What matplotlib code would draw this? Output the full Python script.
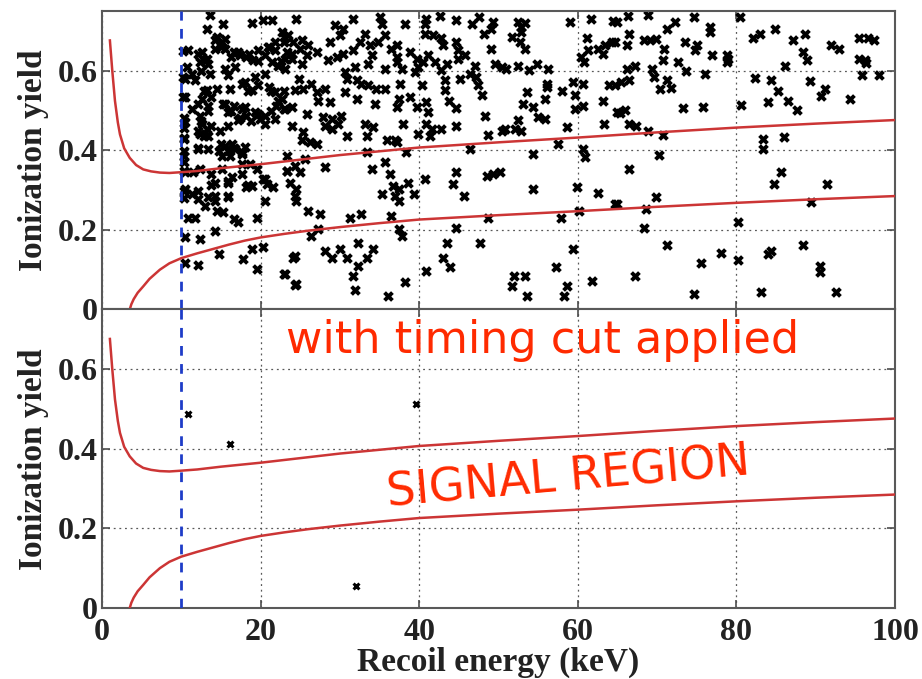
import matplotlib
matplotlib.use("Agg")
import matplotlib.pyplot as plt

# Nuclear-recoil acceptance band (upper / lower edges)
upper_energy = [1.0, 1.3, 1.64, 2.0, 2.27, 2.8, 3.5, 4.3, 5.2, 6.2, 7.3, 8.5,
                10, 12, 15, 20, 30, 40, 50, 60, 70, 80, 90, 100]
upper_yield = [0.676, 0.60, 0.524, 0.47, 0.44, 0.405, 0.381, 0.363, 0.352,
               0.347, 0.344, 0.343, 0.345, 0.348, 0.355, 0.365, 0.388, 0.407,
               0.420, 0.432, 0.445, 0.457, 0.467, 0.476]
lower_energy = [3.5, 3.7, 4.0, 4.5, 5.2, 6.0, 7.3, 8.5, 10, 12, 14, 16, 18,
                20, 23, 26, 30, 35, 40, 50, 60, 70, 80, 90, 100]
lower_yield = [0.0, 0.013, 0.026, 0.042, 0.058, 0.077, 0.100, 0.116, 0.129,
               0.141, 0.152, 0.163, 0.173, 0.181, 0.190, 0.198, 0.207, 0.217,
               0.226, 0.237, 0.247, 0.258, 0.268, 0.277, 0.285]

threshold_kev = 10

# Events before the timing cut
all_energy = [
    80.5, 82.1, 83.0, 84.9, 87.2, 88.7, 88.4, 88.9, 91.9, 92.9, 95.4, 96.6,
    97.3, 95.4, 96.2, 96.4, 95.8, 98.0, 79.0, 86.1, 82.3, 84.4, 89.3, 85.3,
    91.2, 90.7, 84.0, 86.5, 87.7, 94.3, 80.6, 83.4, 83.4, 86.0, 85.6, 84.7,
    91.4, 89.4, 80.2, 88.4, 84.0, 84.4, 80.2, 90.5, 90.5, 83.1, 92.6,
    66.3, 68.8, 74.6, 72.2, 71.2, 64.9, 66.5, 64.7, 66.2, 68.3, 69.1, 69.9,
    70.9, 73.5, 75.0, 74.8, 76.7, 76.7, 76.9, 70.8, 72.7, 73.6, 67.2, 66.2,
    69.3, 69.6, 76.1, 78.8, 78.8, 66.4, 65.5, 64.7, 71.3, 71.8, 70.4, 73.3,
    75.8, 66.0, 65.3, 66.4, 67.3, 68.9, 70.8, 70.2, 66.5, 69.9, 64.9, 68.6,
    68.3, 71.2, 78.1, 75.5, 67.2, 74.7,
    52.5, 53.4, 52.8, 52.9, 51.7, 52.7, 53.4, 59.0, 61.7, 64.5, 61.1, 61.3,
    60.4, 60.8, 62.6, 63.4, 64.3, 63.2, 52.5, 51.0, 53.8, 54.8, 56.3, 56.1,
    56.1, 58.0, 59.4, 60.7, 59.7, 60.7, 59.6, 53.6, 53.1, 54.4, 55.9, 55.0,
    55.9, 52.5, 52.1, 52.9, 50.8, 58.6, 63.3, 63.9, 63.2, 64.9, 57.5, 54.4,
    60.7, 60.9, 54.4, 59.9, 62.6, 64.7, 57.9, 60.2, 59.4, 57.3, 51.9, 53.3,
    51.7, 53.6, 58.6, 58.3, 61.8,
    38.2, 40.9, 40.7, 42.6, 44.7, 46.6, 47.5, 49.3, 49.1, 48.2, 37.2, 37.2,
    40.7, 41.8, 42.8, 43.0, 38.8, 39.7, 39.9, 40.5, 41.1, 39.5, 42.0, 42.8,
    43.5, 44.7, 44.9, 45.8, 44.9, 47.0, 46.4, 47.2, 47.4, 47.9, 45.1, 49.1,
    49.6, 50.4, 37.8, 37.6, 40.3, 43.3, 43.3, 43.7, 37.4, 38.8, 37.2, 39.7,
    40.9, 41.1, 44.7, 48.3, 38.0, 39.9, 40.9, 41.6, 42.8, 41.4, 44.7, 48.7,
    50.4, 37.2, 38.4, 46.4, 40.7, 44.7, 44.3, 45.6, 48.5, 49.3, 50.2, 37.4,
    38.6, 39.3, 37.4, 48.7, 37.4, 37.8, 44.7, 43.5, 47.7, 43.0, 43.9, 40.9,
    38.2,
    24.5, 31.7, 35.1, 35.3, 29.4, 30.4, 30.0, 23.5, 24.1, 25.2, 25.0, 26.0,
    27.1, 28.8, 28.5, 29.6, 30.4, 31.7, 33.2, 32.5, 33.8, 34.0, 33.6, 34.8,
    35.7, 36.5, 37.2, 35.7, 23.9, 25.2, 25.8, 23.3, 23.1, 30.6, 30.9, 31.9,
    32.7, 33.6, 34.6, 35.7, 32.1, 24.8, 24.3, 25.4, 26.4, 27.1, 28.1, 27.3,
    28.8, 30.6, 32.1, 34.4, 23.1, 25.8, 27.9, 29.0, 30.2, 23.9, 25.4, 28.1,
    29.0, 29.8, 30.9, 33.2, 33.4, 34.2, 25.2, 26.2, 27.1, 35.9, 36.9, 23.3,
    25.6, 24.3, 23.3, 25.0, 28.1, 33.4, 35.7, 34.0, 23.7, 24.5, 24.3, 24.5,
    36.3, 36.7, 35.3, 36.9, 26.0, 27.5, 31.3, 32.7, 36.5, 27.3, 26.4, 32.3,
    24.3, 28.1, 29.0, 30.0, 30.9, 34.2, 33.4, 32.3, 31.7, 23.1, 24.5, 31.9,
    36.1, 24.1, 24.3,
    13.6, 13.2, 15.3, 18.9, 20.3, 21.4, 14.5, 15.1, 15.5, 16.6, 14.3, 12.6,
    13.2, 12.4, 10.9, 10.7, 11.3, 17.4, 18.2, 19.1, 19.7, 21.0, 21.8, 22.7,
    23.1, 20.6, 21.4, 22.2, 23.1, 15.5, 15.9, 16.8, 10.5, 11.7, 13.2, 14.5,
    16.1, 12.6, 13.4, 10.5, 11.3, 18.0, 18.9, 19.7, 21.0, 21.8, 22.7, 22.0,
    22.9, 15.3, 15.9, 16.6, 17.6, 18.2, 19.3, 19.9, 17.2, 12.4, 12.6, 13.2,
    12.4, 13.4, 10.5, 10.3, 20.6, 21.8, 15.9, 14.9, 12.1, 13.4, 14.7, 15.5,
    16.4, 16.8, 17.6, 15.1, 16.1, 18.0, 10.3, 10.3, 17.6, 18.7, 10.5, 11.5,
    12.4, 13.8, 15.1, 17.6, 19.5, 23.3, 14.3, 15.9, 16.4, 18.2, 18.9, 20.3,
    20.8, 21.6, 10.5, 11.3, 12.1, 13.4, 14.3, 15.9, 13.0, 20.6, 10.9, 11.7,
    14.5, 15.3, 16.6, 17.2, 19.5, 10.5, 12.4, 14.3, 14.7, 17.8, 18.9, 20.3,
    10.5, 12.1, 19.5, 22.9,
    10.2, 10.2, 10.2, 10.4, 10.4, 10.4, 10.4, 10.4, 10.4, 10.4, 12.1, 12.7,
    13.4, 12.5, 13.6, 14.2, 15.0, 15.5, 16.3, 17.1, 18.6, 19.7, 20.9, 21.8,
    23.0, 22.6, 23.9, 12.9, 13.8, 12.1, 13.4, 12.5, 13.8, 12.1, 12.9, 15.5,
    16.3, 17.4, 18.0, 18.8, 19.7, 20.5, 21.3, 22.2, 23.0, 23.9, 17.6, 18.4,
    19.3, 21.3, 20.5, 15.0, 15.9, 16.7, 17.6, 12.1, 13.8, 15.9, 18.4, 20.5,
    12.1, 15.9, 14.2,
]
all_yield = [
    0.735, 0.681, 0.691, 0.704, 0.677, 0.691, 0.647, 0.626, 0.664, 0.654,
    0.682, 0.682, 0.677, 0.630, 0.626, 0.620, 0.590, 0.588, 0.630, 0.613,
    0.582, 0.577, 0.573, 0.548, 0.553, 0.536, 0.521, 0.523, 0.502, 0.529,
    0.514, 0.429, 0.403, 0.434, 0.345, 0.315, 0.315, 0.269, 0.219, 0.161,
    0.139, 0.147, 0.124, 0.109, 0.093, 0.044, 0.044,
    0.738, 0.741, 0.735, 0.723, 0.704, 0.723, 0.693, 0.672, 0.664, 0.677,
    0.677, 0.679, 0.655, 0.672, 0.664, 0.651, 0.710, 0.698, 0.639, 0.626,
    0.622, 0.598, 0.613, 0.605, 0.605, 0.584, 0.592, 0.639, 0.622, 0.576,
    0.571, 0.565, 0.576, 0.557, 0.555, 0.506, 0.510, 0.500, 0.494, 0.466,
    0.461, 0.449, 0.439, 0.388, 0.353, 0.282, 0.265, 0.252, 0.206, 0.161,
    0.141, 0.118, 0.084, 0.038,
    0.723, 0.721, 0.710, 0.696, 0.685, 0.672, 0.655, 0.723, 0.729, 0.724,
    0.681, 0.651, 0.634, 0.622, 0.655, 0.664, 0.672, 0.643, 0.613, 0.605,
    0.601, 0.618, 0.605, 0.567, 0.559, 0.550, 0.572, 0.567, 0.538, 0.511,
    0.504, 0.546, 0.517, 0.508, 0.529, 0.483, 0.479, 0.475, 0.454, 0.449,
    0.454, 0.458, 0.466, 0.563, 0.525, 0.496, 0.416, 0.391, 0.403, 0.382,
    0.302, 0.307, 0.292, 0.265, 0.231, 0.248, 0.152, 0.108, 0.084, 0.084,
    0.060, 0.035, 0.060, 0.035, 0.071,
    0.718, 0.731, 0.718, 0.738, 0.727, 0.718, 0.735, 0.723, 0.706, 0.691,
    0.664, 0.622, 0.691, 0.689, 0.681, 0.664, 0.647, 0.630, 0.609, 0.622,
    0.639, 0.597, 0.622, 0.601, 0.618, 0.672, 0.651, 0.639, 0.630, 0.613,
    0.592, 0.584, 0.563, 0.538, 0.580, 0.655, 0.618, 0.609, 0.605, 0.567,
    0.563, 0.576, 0.551, 0.525, 0.529, 0.534, 0.508, 0.508, 0.521, 0.496,
    0.506, 0.487, 0.466, 0.441, 0.466, 0.454, 0.454, 0.437, 0.461, 0.439,
    0.449, 0.420, 0.395, 0.403, 0.328, 0.345, 0.315, 0.286, 0.336, 0.340,
    0.345, 0.302, 0.319, 0.290, 0.273, 0.231, 0.202, 0.185, 0.206, 0.168,
    0.166, 0.130, 0.108, 0.097, 0.069,
    0.729, 0.731, 0.735, 0.718, 0.714, 0.706, 0.689, 0.689, 0.672, 0.677,
    0.655, 0.664, 0.647, 0.672, 0.626, 0.634, 0.643, 0.651, 0.693, 0.672,
    0.664, 0.639, 0.618, 0.672, 0.689, 0.655, 0.634, 0.605, 0.630, 0.618,
    0.639, 0.647, 0.605, 0.597, 0.580, 0.609, 0.567, 0.563, 0.555, 0.555,
    0.576, 0.580, 0.551, 0.555, 0.567, 0.546, 0.555, 0.525, 0.521, 0.546,
    0.529, 0.517, 0.504, 0.492, 0.483, 0.479, 0.487, 0.462, 0.445, 0.462,
    0.454, 0.466, 0.437, 0.466, 0.437, 0.458, 0.425, 0.420, 0.416, 0.425,
    0.425, 0.386, 0.378, 0.361, 0.349, 0.345, 0.357, 0.395, 0.370, 0.353,
    0.319, 0.302, 0.286, 0.273, 0.340, 0.311, 0.290, 0.286, 0.248, 0.240,
    0.231, 0.240, 0.235, 0.202, 0.185, 0.168, 0.134, 0.147, 0.130, 0.151,
    0.130, 0.151, 0.130, 0.109, 0.084, 0.088, 0.063, 0.050, 0.034, 0.129,
    0.062,
    0.741, 0.706, 0.718, 0.721, 0.727, 0.727, 0.685, 0.672, 0.655, 0.647,
    0.655, 0.647, 0.630, 0.622, 0.651, 0.609, 0.592, 0.639, 0.634, 0.626,
    0.651, 0.660, 0.672, 0.698, 0.681, 0.639, 0.622, 0.613, 0.630, 0.605,
    0.588, 0.609, 0.580, 0.576, 0.551, 0.555, 0.555, 0.529, 0.512, 0.534,
    0.504, 0.572, 0.551, 0.563, 0.559, 0.546, 0.529, 0.512, 0.504, 0.517,
    0.496, 0.512, 0.504, 0.487, 0.496, 0.479, 0.475, 0.487, 0.466, 0.454,
    0.441, 0.437, 0.471, 0.429, 0.487, 0.479, 0.462, 0.449, 0.403, 0.403,
    0.399, 0.412, 0.416, 0.403, 0.395, 0.386, 0.386, 0.408, 0.386, 0.370,
    0.366, 0.366, 0.345, 0.345, 0.353, 0.340, 0.353, 0.340, 0.353, 0.349,
    0.319, 0.319, 0.332, 0.307, 0.311, 0.328, 0.315, 0.307, 0.302, 0.290,
    0.277, 0.282, 0.286, 0.282, 0.261, 0.273, 0.231, 0.231, 0.248, 0.244,
    0.227, 0.219, 0.231, 0.181, 0.178, 0.197, 0.139, 0.126, 0.151, 0.156,
    0.118, 0.113, 0.101, 0.088,
    0.650, 0.583, 0.533, 0.482, 0.457, 0.432, 0.398, 0.348, 0.297, 0.281,
    0.642, 0.630, 0.617, 0.600, 0.592, 0.676, 0.659, 0.680, 0.634, 0.647,
    0.642, 0.625, 0.659, 0.651, 0.672, 0.625, 0.642, 0.550, 0.533, 0.516,
    0.499, 0.474, 0.461, 0.449, 0.436, 0.516, 0.499, 0.482, 0.508, 0.474,
    0.491, 0.466, 0.499, 0.524, 0.550, 0.508, 0.567, 0.550, 0.583, 0.550,
    0.592, 0.415, 0.398, 0.407, 0.390, 0.407, 0.314, 0.323, 0.314, 0.327,
    0.297, 0.285, 0.272,
]

# Events surviving the timing cut
cut_energy = [10.8, 16.1, 39.6, 32.0]
cut_yield = [0.487, 0.413, 0.513, 0.054]

xticks = [0, 20, 40, 60, 80, 100]
yticks = [0, 0.2, 0.4, 0.6]

serif = ['Liberation Serif', 'DejaVu Serif']
band_color = '#cc3535'
label_red = '#ff2a00'

fig = plt.figure(figsize=(9.22, 6.79), dpi=100)
ax_top = fig.add_axes([0.1106, 0.5442, 0.8601, 0.4396])
ax_bot = fig.add_axes([0.1106, 0.1046, 0.8601, 0.4396])


def style_panel(ax):
    ax.set_xlim(0, 100)
    ax.set_ylim(0, 0.75)
    ax.set_xticks(xticks)
    ax.set_yticks(yticks)
    ax.set_yticklabels(['0', '0.2', '0.4', '0.6'])
    ax.grid(True, color='0.35', linestyle=(0, (1.5, 3)), linewidth=0.9)
    ax.tick_params(direction='in', length=6, width=1.2, color='0.3',
                   top=True, right=True, labelsize=23, pad=3)
    for lbl in ax.get_xticklabels() + ax.get_yticklabels():
        lbl.set_fontfamily(serif)
        lbl.set_fontweight('bold')
        lbl.set_color('#222222')
    for sp in ax.spines.values():
        sp.set_color('0.35')
        sp.set_linewidth(1.5)
    ax.set_ylabel('Ionization yield', fontsize=24, fontweight='bold',
                  family=serif, labelpad=6, color='#222222')


def draw_band(ax):
    ax.plot(upper_energy, upper_yield, color=band_color, lw=1.8, zorder=3)
    ax.plot(lower_energy, lower_yield, color=band_color, lw=1.8, zorder=3)
    ax.axvline(threshold_kev, color='#1e3cc8', lw=2, ls=(0, (3.5, 3)),
               zorder=4)


style_panel(ax_top)
draw_band(ax_top)
ax_top.scatter(all_energy, all_yield, marker='x', s=32, linewidths=2.8,
               color='black', zorder=2)
ax_top.tick_params(labelbottom=False)

style_panel(ax_bot)
draw_band(ax_bot)
ax_bot.scatter(cut_energy, cut_yield, marker='x', s=18, linewidths=2.2,
               color='black', zorder=2)
ax_bot.tick_params(axis='x', pad=7)
ax_bot.set_xlabel('Recoil energy (keV)', fontsize=24, fontweight='bold',
                  family=serif, labelpad=0, color='#222222')

fig.text(543 / 922, 1 - 340 / 679, 'with timing cut applied', color=label_red,
         fontsize=32, family='DejaVu Sans', ha='center', va='center')
fig.text(568 / 922, 1 - 478 / 679, 'SIGNAL REGION', color=label_red,
         fontsize=33, family='DejaVu Sans', ha='center', va='center',
         rotation=5)

fig.savefig('out.png', dpi=100)
